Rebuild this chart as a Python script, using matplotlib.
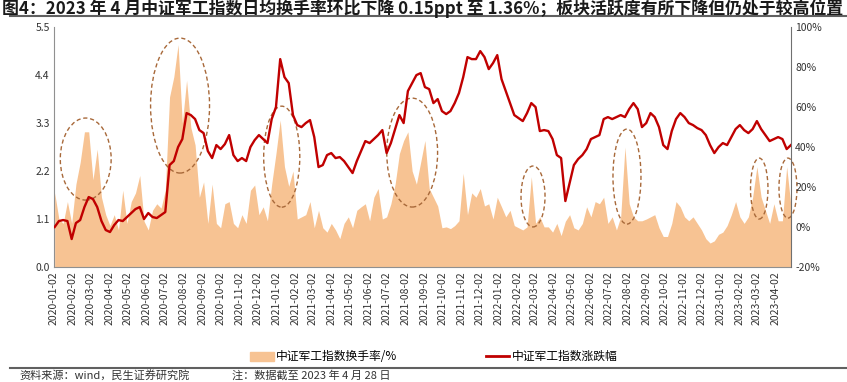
import matplotlib
matplotlib.use("Agg")
import matplotlib.pyplot as plt
import numpy as np
import pandas as pd
from matplotlib.patches import Ellipse, Patch
from matplotlib.lines import Line2D
from matplotlib.ticker import FuncFormatter, FixedLocator

plt.rcParams['font.family'] = ['Noto Sans CJK SC', 'DejaVu Sans']
plt.rcParams['axes.unicode_minus'] = False

# weekly readings (Fridays) 2020-01-03 .. 2023-04-28
weeks = pd.date_range('2020-01-03', '2023-04-28', freq='W-FRI')

# 中证军工指数换手率 (%), left axis
turnover = [1.7, 1.1, 1.0, 1.5, 1.0, 1.9, 2.4, 3.1, 3.1, 2.0,
            2.7, 1.6, 1.2, 0.95, 1.2, 0.85, 1.76, 1.0, 1.5, 1.7,
            2.1, 1.05, 0.85, 1.3, 1.45, 1.35, 1.76, 3.9, 4.36, 5.1,
            3.3, 4.28, 3.2, 2.8, 1.6, 1.95, 1.0, 1.9, 1.0, 0.9,
            1.45, 1.5, 1.0, 0.9, 1.2, 1.0, 1.76, 1.88, 1.2, 1.38,
            1.06, 1.9, 2.6, 3.37, 2.3, 1.85, 2.2, 1.1, 1.15, 1.2,
            1.5, 0.9, 1.3, 0.9, 0.8, 1.0, 0.85, 0.65, 1.0, 1.15,
            0.9, 1.3, 1.38, 1.45, 1.06, 1.6, 1.8, 1.1, 1.15, 1.45,
            1.9, 2.6, 2.9, 3.1, 2.2, 1.9, 2.4, 2.9, 1.8, 1.6,
            1.4, 0.9, 0.92, 0.88, 0.95, 1.06, 2.15, 1.2, 1.7, 1.6,
            1.8, 1.4, 1.45, 1.1, 1.6, 1.38, 1.15, 1.3, 0.95, 0.9,
            0.85, 0.92, 2.07, 1.0, 1.15, 0.92, 0.92, 0.8, 1.0, 0.72,
            1.05, 1.2, 0.9, 0.85, 1.0, 1.38, 1.15, 1.5, 1.45, 1.6,
            1.0, 1.15, 0.85, 1.15, 2.75, 1.45, 1.15, 1.06, 1.06, 1.1,
            1.15, 1.2, 0.9, 0.7, 0.7, 1.0, 1.5, 1.38, 1.15, 1.06,
            1.15, 1.0, 0.85, 0.65, 0.55, 0.6, 0.75, 0.8, 0.95, 1.2,
            1.5, 1.15, 1.0, 1.15, 1.6, 2.3, 1.6, 1.3, 1.0, 1.45,
            1.06, 1.06, 2.3, 1.4]

# 中证军工指数涨跌幅 (%), right axis
change = [0, 3, 3.5, 3, -6, 2, 3.5, 10, 15, 14,
          10, 3, -1.5, -2.5, 1, 3.5, 3, 5, 7, 9,
          10, 4, 7, 5, 4.5, 6, 7.5, 31, 33, 40,
          44, 57, 56, 54, 48.5, 47, 38, 34.5, 41, 39,
          41.5, 46, 36, 33, 34.5, 33, 40, 43.5, 46, 44,
          42, 54, 60, 84, 75, 72, 56, 51, 50, 52,
          53.5, 45, 30, 31, 36, 37, 34.5, 35, 33, 30,
          27, 33, 38, 43, 42, 44, 46, 48.5, 37, 42,
          49, 56, 52, 68, 72, 76, 77, 70, 69, 62,
          64, 58, 56.5, 58, 62, 67, 75, 85, 84, 84,
          88, 85, 79, 82, 86, 74, 68, 62, 56, 54.5,
          53, 57, 62, 60, 48, 48.5, 48, 44, 36, 34.5,
          13, 22, 31, 34, 36, 39, 44, 45, 46, 54,
          55, 54, 55, 56, 55, 59, 62, 59, 50, 52,
          57, 55, 50, 41, 39, 48, 54, 57, 55, 52,
          51, 49.5, 48.5, 46, 41, 37, 40, 42, 41, 45,
          49, 51, 48.5, 47, 49, 53, 49, 46, 43, 44,
          45, 44, 39, 41]

left_ticks = [0.0, 1.1, 2.2, 3.3, 4.4, 5.5]
right_ticks = [-20, 0, 20, 40, 60, 80, 100]
month_ticks = pd.date_range('2020-01-01', '2023-04-01', freq='MS') + pd.Timedelta(days=1)

title = '图4：2023 年 4 月中证军工指数日均换手率环比下降 0.15ppt 至 1.36%；板块活跃度有所下降但仍处于较高位置'
source = '资料来源：wind，民生证券研究院'
note = '注：数据截至 2023 年 4 月 28 日'

# highlight ellipses, axes fraction: (cx, cy, w, h)
ellipses = [(0.043, 0.45, 0.069, 0.342),
            (0.171, 0.673, 0.080, 0.5625),
            (0.309, 0.460, 0.049, 0.421),
            (0.486, 0.477, 0.069, 0.454),
            (0.650, 0.294, 0.0326, 0.254),
            (0.7775, 0.377, 0.038, 0.396),
            (0.957, 0.327, 0.0237, 0.254),
            (0.996, 0.329, 0.0244, 0.25)]

area_color = '#F7C393'
line_color = '#C00000'

fig = plt.figure(figsize=(8.47, 3.82), dpi=100)
ax = fig.add_axes([0.0638, 0.301, 0.870, 0.628])
ax2 = ax.twinx()

ax.fill_between(weeks, turnover, 0, color=area_color, lw=0)
ax2.plot(weeks, change, color=line_color, lw=1.7)

ax.set_ylim(0, 5.5)
ax.set_yticks(left_ticks)
ax.yaxis.set_major_formatter(FuncFormatter(lambda v, p: f'{v:.1f}'))
ax2.set_ylim(-20, 100)
ax2.set_yticks(right_ticks)
ax2.yaxis.set_major_formatter(FuncFormatter(lambda v, p: f'{v:.0f}%'))

ax.set_xlim(pd.Timestamp('2020-01-02'), pd.Timestamp('2023-04-28'))
ax.xaxis.set_major_locator(FixedLocator(matplotlib.dates.date2num(month_ticks)))
ax.set_xticklabels([d.strftime('%Y-%m-%d') for d in month_ticks], rotation=90)

for a in (ax, ax2):
    a.spines['top'].set_visible(False)
    a.tick_params(length=0, labelsize=7.5, colors='#333333', pad=3)
ax.spines['left'].set_color('#909090')
ax.spines['bottom'].set_color('#909090')
ax.spines['right'].set_visible(False)
ax2.spines['left'].set_visible(False)
ax2.spines['bottom'].set_visible(False)
ax2.spines['right'].set_color('#707070')

for cx, cy, w, h in ellipses:
    ax.add_patch(Ellipse((cx, cy), w, h, transform=ax.transAxes, fill=False,
                         ec='#A8693A', lw=1.0, ls=(0, (3, 2)), clip_on=False, zorder=5))

handles = [Patch(color=area_color), Line2D([], [], color=line_color, lw=2)]
fig.legend(handles, ['中证军工指数换手率/%', '中证军工指数涨跌幅'], loc='center',
           bbox_to_anchor=(0.512, 0.066), ncol=2, frameon=False, fontsize=8.5,
           handlelength=2.0, handleheight=0.8, columnspacing=7.5, handletextpad=0.2)

fig.text(0.002, 0.979, title, fontsize=12.2, fontweight='bold', va='center', color='#1a1a1a')
fig.add_artist(Line2D([10 / 847, 1], [1 - 16 / 382] * 2, color='#606060', lw=1.5))
fig.add_artist(Line2D([10 / 847, 1], [1 - 368 / 382] * 2, color='#606060', lw=1.5))
fig.text(19 / 847, 1 - 375.5 / 382, source, fontsize=8, va='center', color='#333333')
fig.text(232 / 847, 1 - 375.5 / 382, note, fontsize=8, va='center', color='#333333')

fig.savefig('out.png', dpi=100)
